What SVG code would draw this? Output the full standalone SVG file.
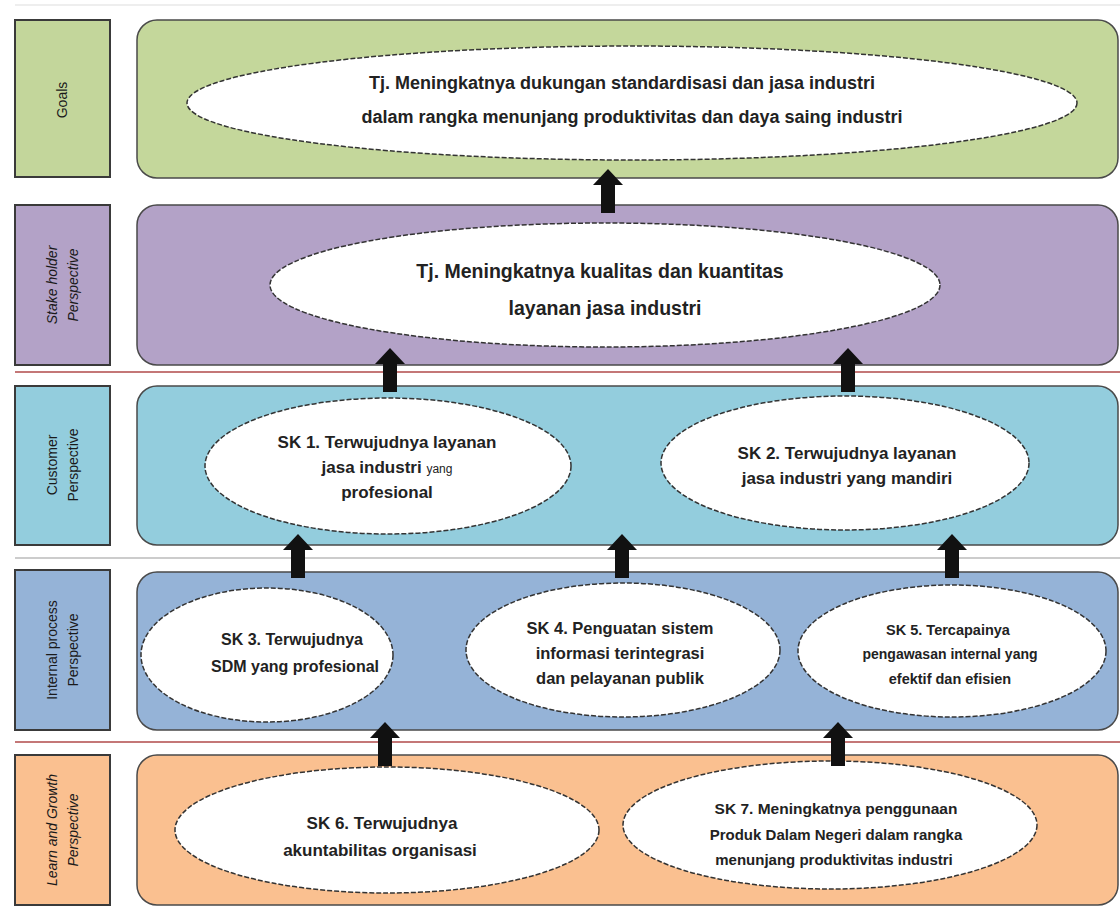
<svg xmlns="http://www.w3.org/2000/svg" width="1120" height="909" viewBox="0 0 1120 909">
<style>
.lbl{stroke:#3a3a3a;stroke-width:2}
.pnl{stroke:#4a4a4a;stroke-width:1.5}
.ell{fill:#ffffff;stroke:#333;stroke-width:1.5;stroke-dasharray:5 2}
.t{font-family:"Liberation Sans",Arial,sans-serif;font-weight:bold;fill:#222;text-anchor:middle}
.side{font-family:"Liberation Sans",Arial,sans-serif;font-size:14px;fill:#1a1a1a;text-anchor:middle}
.arr{fill:#111}
</style>
<defs>
<path id="up" d="M0,-22 L15,-6 L7,-6 L7,22 L-7,22 L-7,-6 L-15,-6 Z"/>
</defs>
<rect width="1120" height="909" fill="#ffffff"/>
<line x1="15" y1="5" x2="1120" y2="5" stroke="#dddddd" stroke-width="1"/>
<line x1="15" y1="372" x2="1120" y2="372" stroke="#b04a4a" stroke-width="1.5"/>
<line x1="15" y1="558" x2="1120" y2="558" stroke="#bbbbbb" stroke-width="1.5"/>
<line x1="15" y1="742" x2="1120" y2="742" stroke="#b04a4a" stroke-width="1.5"/>

<g id="goals">
<rect class="lbl" x="15" y="20" width="95" height="157" fill="#C3D69B"/>
<text class="side" transform="translate(67,100) rotate(-90)">Goals</text>
<rect class="pnl" x="137" y="20" width="981" height="158" rx="20" fill="#C4D79B"/>
<ellipse class="ell" cx="632" cy="103" rx="445" ry="57"/>
<text class="t" x="622" y="89" font-size="18">Tj. Meningkatnya dukungan standardisasi dan jasa industri</text>
<text class="t" x="632" y="123" font-size="18">dalam rangka menunjang produktivitas dan daya saing industri</text>
</g>

<g id="stakeholder">
<rect class="lbl" x="15" y="205" width="95" height="160" fill="#B3A2C7"/>
<text class="side" font-style="italic" transform="translate(62,285) rotate(-90)"><tspan x="0" y="-5">Stake holder</tspan><tspan x="0" y="16">Perspective</tspan></text>
<rect class="pnl" x="137" y="205" width="981" height="160" rx="20" fill="#B3A2C7"/>
<ellipse class="ell" cx="605" cy="285" rx="335" ry="62"/>
<text class="t" x="600" y="278" font-size="19.5">Tj. Meningkatnya kualitas dan kuantitas</text>
<text class="t" x="605" y="315" font-size="19.5">layanan jasa industri</text>
</g>

<g id="customer">
<rect class="lbl" x="15" y="386" width="95" height="159" fill="#93CDDD"/>
<text class="side" transform="translate(62,465) rotate(-90)"><tspan x="0" y="-5">Customer</tspan><tspan x="0" y="16">Perspective</tspan></text>
<rect class="pnl" x="137" y="386" width="981" height="159" rx="20" fill="#93CDDD"/>
</g>
<g id="sk1">
<ellipse class="ell" cx="388" cy="466" rx="183" ry="68"/>
<text class="t" x="387" y="448" font-size="17">SK 1. Terwujudnya layanan</text>
<text class="t" x="387" y="473" font-size="17">jasa industri <tspan font-size="12" font-weight="normal">yang</tspan></text>
<text class="t" x="387" y="498" font-size="17">profesional</text>
</g>
<g id="sk2">
<ellipse class="ell" cx="845" cy="463" rx="184" ry="67"/>
<text class="t" x="847" y="459" font-size="17">SK 2. Terwujudnya layanan</text>
<text class="t" x="847" y="484" font-size="17">jasa industri yang mandiri</text>
</g>

<g id="internal">
<rect class="lbl" x="15" y="570" width="95" height="160" fill="#95B3D7"/>
<text class="side" transform="translate(62,650) rotate(-90)"><tspan x="0" y="-5">Internal process</tspan><tspan x="0" y="16">Perspective</tspan></text>
<rect class="pnl" x="137" y="572" width="981" height="158" rx="20" fill="#95B3D7"/>
</g>
<g id="sk3">
<ellipse class="ell" cx="267" cy="655" rx="126" ry="67"/>
<text class="t" x="292" y="645" font-size="16">SK 3. Terwujudnya</text>
<text class="t" x="295" y="672" font-size="16">SDM yang profesional</text>
</g>
<g id="sk4">
<ellipse class="ell" cx="623" cy="650" rx="157" ry="67"/>
<text class="t" x="620" y="634" font-size="16.5">SK 4. Penguatan sistem</text>
<text class="t" x="620" y="659" font-size="16.5">informasi terintegrasi</text>
<text class="t" x="620" y="684" font-size="16.5">dan pelayanan publik</text>
</g>
<g id="sk5">
<ellipse class="ell" cx="952" cy="651" rx="154" ry="66"/>
<text class="t" x="948" y="635" font-size="14.5">SK 5. Tercapainya</text>
<text class="t" x="950" y="659" font-size="14" font-weight="normal">pengawasan internal yang</text>
<text class="t" x="950" y="684" font-size="14.5">efektif dan efisien</text>
</g>

<g id="learn">
<rect class="lbl" x="15" y="755" width="95" height="150" fill="#FAC090"/>
<text class="side" font-style="italic" transform="translate(62,830) rotate(-90)"><tspan x="0" y="-5">Learn and Growth</tspan><tspan x="0" y="16">Perspective</tspan></text>
<rect class="pnl" x="137" y="755" width="981" height="150" rx="20" fill="#FAC090"/>
</g>
<g id="sk6">
<ellipse class="ell" cx="387" cy="830" rx="212" ry="63"/>
<text class="t" x="382" y="829" font-size="17">SK 6. Terwujudnya</text>
<text class="t" x="380" y="856" font-size="17">akuntabilitas organisasi</text>
</g>
<g id="sk7">
<ellipse class="ell" cx="830" cy="825" rx="207" ry="64"/>
<text class="t" x="836" y="814" font-size="15.5">SK 7. Meningkatnya penggunaan</text>
<text class="t" x="836" y="840" font-size="15">Produk Dalam Negeri dalam rangka</text>
<text class="t" x="834" y="865" font-size="15">menunjang produktivitas industri</text>
</g>

<g id="connectors" class="arr">
<use href="#up" x="608" y="191"/>
<use href="#up" x="390" y="370"/>
<use href="#up" x="848" y="370"/>
<use href="#up" x="298" y="556"/>
<use href="#up" x="622" y="556"/>
<use href="#up" x="952" y="556"/>
<use href="#up" x="385" y="744"/>
<use href="#up" x="838" y="744"/>
</g>
</svg>
